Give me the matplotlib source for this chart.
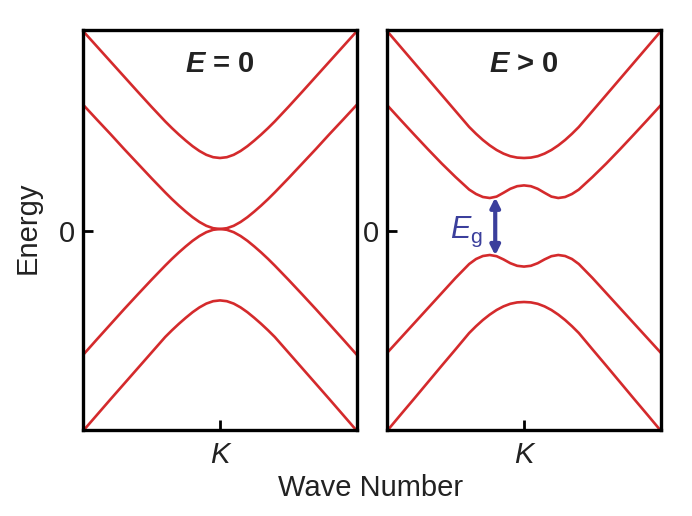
import matplotlib
matplotlib.use('Agg')
import matplotlib.pyplot as plt

plt.rcParams['font.family'] = ['Liberation Sans', 'DejaVu Sans']
plt.rcParams['mathtext.fontset'] = 'custom'
plt.rcParams['mathtext.rm'] = 'Liberation Sans'
plt.rcParams['mathtext.it'] = 'Liberation Sans:italic'
plt.rcParams['mathtext.bf'] = 'Liberation Sans:bold'
plt.rcParams['mathtext.bfit'] = 'Liberation Sans:bold:italic'

# wave number around K (K = 0)
k = [-1.0, -0.9, -0.8, -0.7, -0.6, -0.5, -0.4, -0.35, -0.3, -0.25, -0.2, -0.15, -0.1, -0.05, 0.0,
     0.05, 0.1, 0.15, 0.2, 0.25, 0.3, 0.35, 0.4, 0.5, 0.6, 0.7, 0.8, 0.9, 1.0]

# E = 0 panel
left_up_outer = [1.0, 0.924, 0.848, 0.772, 0.696, 0.621, 0.548, 0.514, 0.482, 0.452, 0.424, 0.400, 0.381, 0.369, 0.365,
                 0.369, 0.381, 0.400, 0.424, 0.452, 0.482, 0.514, 0.548, 0.621, 0.696, 0.772, 0.848, 0.924, 1.0]
left_up_inner = [0.632, 0.558, 0.485, 0.410, 0.337, 0.264, 0.193, 0.159, 0.127, 0.097, 0.069, 0.045, 0.026, 0.014, 0.010,
                 0.014, 0.026, 0.045, 0.069, 0.097, 0.127, 0.159, 0.193, 0.264, 0.337, 0.410, 0.485, 0.558, 0.632]
left_lo_inner = [-0.62, -0.543, -0.467, -0.391, -0.317, -0.244, -0.173, -0.139, -0.107, -0.077, -0.049, -0.025, -0.006, 0.006, 0.010,
                 0.006, -0.006, -0.025, -0.049, -0.077, -0.107, -0.139, -0.173, -0.244, -0.317, -0.391, -0.467, -0.543, -0.62]
left_lo_outer = [-1.0, -0.921, -0.842, -0.764, -0.686, -0.608, -0.530, -0.496, -0.464, -0.434, -0.406, -0.382, -0.363, -0.351, -0.347,
                 -0.351, -0.363, -0.382, -0.406, -0.434, -0.464, -0.496, -0.530, -0.608, -0.686, -0.764, -0.842, -0.921, -1.0]

# E > 0 panel
right_up_outer = [1.0, 0.92, 0.84, 0.76, 0.68, 0.60, 0.52, 0.486, 0.455, 0.428, 0.405, 0.387, 0.374, 0.367, 0.365,
                  0.367, 0.374, 0.387, 0.405, 0.428, 0.455, 0.486, 0.52, 0.60, 0.68, 0.76, 0.84, 0.92, 1.0]
right_up_inner = [0.63, 0.555, 0.481, 0.408, 0.337, 0.27, 0.207, 0.185, 0.170, 0.165, 0.172, 0.191, 0.211, 0.224, 0.228,
                  0.224, 0.211, 0.191, 0.172, 0.165, 0.170, 0.185, 0.207, 0.27, 0.337, 0.408, 0.481, 0.555, 0.63]
right_lo_inner = [-0.61, -0.535, -0.46, -0.385, -0.31, -0.235, -0.165, -0.140, -0.125, -0.120, -0.126, -0.142, -0.161, -0.174, -0.178,
                  -0.174, -0.161, -0.142, -0.126, -0.120, -0.125, -0.140, -0.165, -0.235, -0.31, -0.385, -0.46, -0.535, -0.61]
right_lo_outer = [-1.0, -0.918, -0.837, -0.755, -0.673, -0.592, -0.51, -0.476, -0.445, -0.418, -0.395, -0.377, -0.364, -0.357, -0.355,
                  -0.357, -0.364, -0.377, -0.395, -0.418, -0.445, -0.476, -0.51, -0.592, -0.673, -0.755, -0.837, -0.918, -1.0]

titles = [r'$\mathbfit{E}$ = 0', r'$\mathbfit{E}$ > 0']
gap_top = 0.168
gap_bottom = -0.122
gap_k = -0.21

red = '#d42a2c'
blue = '#3b3f9c'
ink = '#222222'

fig = plt.figure(figsize=(6.92, 5.16), dpi=100)
ax1 = fig.add_axes([83 / 692, 86 / 516, 274 / 692, 400 / 516])
ax2 = fig.add_axes([387 / 692, 86 / 516, 274 / 692, 400 / 516])

panels = [(ax1, [left_up_outer, left_up_inner, left_lo_inner, left_lo_outer]),
          (ax2, [right_up_outer, right_up_inner, right_lo_inner, right_lo_outer])]

for (ax, bands), title in zip(panels, titles):
    for band in bands:
        ax.plot(k, band, color=red, lw=1.9, solid_capstyle='butt')
    ax.set_xlim(-1, 1)
    ax.set_ylim(-0.995, 1.005)
    ax.set_xticks([0])
    ax.set_xticklabels(['K'], fontstyle='italic', fontsize=21, color=ink)
    ax.set_yticks([0])
    ax.set_yticklabels(['0'], fontsize=21, color=ink)
    ax.tick_params(direction='in', length=7, width=2, color='black')
    ax.tick_params(axis='y', pad=6)
    ax.tick_params(axis='x', pad=8)
    for s in ax.spines.values():
        s.set_linewidth(2.4)
        s.set_color('black')
        s.set_zorder(5)
    ax.text(0.5, 0.915, title, transform=ax.transAxes, ha='center', va='center',
            fontsize=21, fontweight='bold', color=ink)

# band gap arrow
ax2.annotate('', xy=(gap_k, gap_top), xytext=(gap_k, gap_bottom),
             arrowprops=dict(arrowstyle='<|-|>', color=blue, lw=3,
                             mutation_scale=14, shrinkA=0, shrinkB=0))
ax2.text(gap_k - 0.09, -0.005, r'$E_{\mathrm{g}}$', color=blue, fontsize=22,
         ha='right', va='center')

fig.text(28 / 692, 1 - 228 / 516, 'Energy', rotation=90, ha='center', va='center',
         fontsize=21, color=ink)
fig.text(371 / 692, 1 - 488 / 516, 'Wave Number', ha='center', va='center',
         fontsize=21, color=ink)

fig.savefig('out.png', dpi=100)
